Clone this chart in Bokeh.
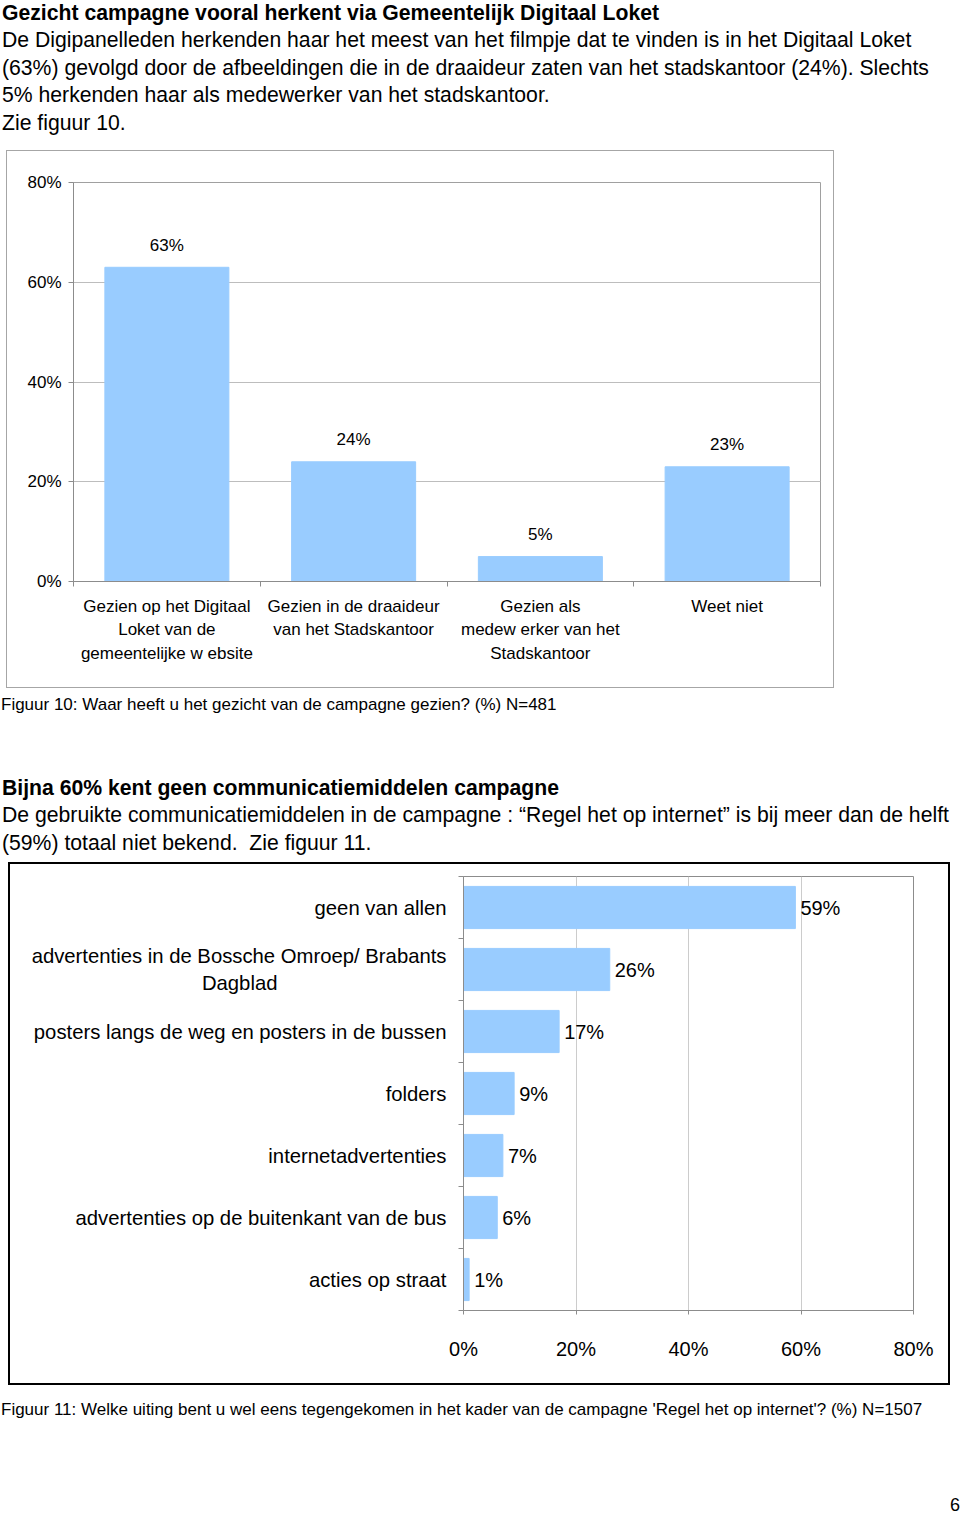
from bokeh.plotting import figure
from bokeh.models import (Range1d, FixedTicker, CustomJSTickFormatter, PrintfTickFormatter,
                          Div, ColumnDataSource)
from bokeh.layouts import column, row
from bokeh.embed import file_html
from bokeh.resources import INLINE
from bokeh.core.properties import value

FONT = "Liberation Sans"
BAR = "#99ccff"
AXIS = "#8c8c8c"
GRID1 = "#bdbdbd"
GRID2 = "#cccccc"

# ---------------- data ----------------
fig10_categories = [
    "Gezien op het Digitaal\nLoket van de\ngemeentelijke w ebsite",
    "Gezien in de draaideur\nvan het Stadskantoor",
    "Gezien als\nmedew erker van het\nStadskantoor",
    "Weet niet",
]
fig10_values = [63, 24, 5, 23]
fig10_ticks = [0, 20, 40, 60, 80]

fig11_categories = [
    "geen van allen",
    "advertenties in de Bossche Omroep/ Brabants\nDagblad" + "\u00a0" * 30,
    "posters langs de weg en posters in de bussen",
    "folders",
    "internetadvertenties",
    "advertenties op de buitenkant van de bus",
    "acties op straat",
]
fig11_values = [59, 26, 17, 9, 7, 6, 1]
fig11_ticks = [0, 20, 40, 60, 80]

# ---------------- texts ----------------
heading1 = "Gezicht campagne vooral herkent via Gemeentelijk Digitaal Loket"
para1 = [
    "De Digipanelleden herkenden haar het meest van het filmpje dat te vinden is in het Digitaal Loket",
    "(63%) gevolgd door de afbeeldingen die in de draaideur zaten van het stadskantoor (24%). Slechts",
    "5% herkenden haar als medewerker van het stadskantoor.",
    "Zie figuur 10.",
]
caption10 = "Figuur 10: Waar heeft u het gezicht van de campagne gezien? (%) N=481"
heading2 = "Bijna 60% kent geen communicatiemiddelen campagne"
para2 = [
    "De gebruikte communicatiemiddelen in de campagne : \u201cRegel het op internet\u201d is bij meer dan de helft",
    "(59%) totaal niet bekend.&nbsp; Zie figuur 11.",
]
caption11 = "Figuur 11: Welke uiting bent u wel eens tegengekomen in het kader van de campagne 'Regel het op internet'? (%) N=1507"
page_number = "6"

BASE = f"position:absolute;white-space:nowrap;font-family:'{FONT}';color:#000;"

# ---------------- text block A ----------------
divA = Div(width=960, height=150, margin=0, text=(
    f"<div style='position:relative;width:960px;height:150px;'>"
    f"<div style=\"{BASE}left:2px;top:-1.5px;font-size:21.2px;line-height:27.5px;\">"
    f"<b>{heading1}</b><br>" + "<br>".join(para1) + "</div></div>"))

# ---------------- figure 10 ----------------
n1 = len(fig10_values)
p1 = figure(width=828, height=538, x_range=Range1d(0, n1), y_range=Range1d(0, 80),
            output_backend="svg", toolbar_location=None,
            min_border_left=66, min_border_right=15, min_border_top=31, min_border_bottom=108,
            margin=(0, 0, 0, 6),
            styles={"border": "1px solid #a6a6a6", "box-sizing": "border-box"})
src1 = ColumnDataSource(dict(x=[i + 0.5 for i in range(n1)], top=fig10_values,
                             label=[f"{v}%" for v in fig10_values]))
p1.vbar(x="x", top="top", width=0.664, color=BAR, source=src1)
p1.text(x="x", y="top", text="label", source=src1, text_align="center", text_baseline="middle",
        y_offset=-22, text_font=value(FONT), text_font_size="17px", text_color="black")

p1.yaxis.ticker = FixedTicker(ticks=fig10_ticks)
p1.yaxis.formatter = PrintfTickFormatter(format="%d%%")
p1.xaxis.ticker = FixedTicker(ticks=[i + 0.5 for i in range(n1)], minor_ticks=list(range(n1 + 1)))
p1.xaxis.formatter = CustomJSTickFormatter(args=dict(labels=fig10_categories),
                                           code="return labels[Math.floor(tick)]")
for ax in (p1.xaxis[0], p1.yaxis[0]):
    ax.axis_line_color = AXIS
    ax.major_tick_line_color = AXIS
    ax.minor_tick_line_color = AXIS
    ax.major_label_text_font = FONT
    ax.major_label_text_font_size = "17px"
    ax.major_label_text_color = "black"
    ax.major_tick_in = 0
    ax.minor_tick_in = 0
p1.yaxis.major_tick_out = 5
p1.yaxis.minor_tick_out = 0
p1.yaxis.major_label_standoff = 7
p1.xaxis.major_tick_out = 0
p1.xaxis.minor_tick_out = 5
p1.xaxis.major_label_standoff = 10
p1.xaxis.major_label_text_line_height = 1.25
p1.xgrid.visible = False
p1.ygrid.ticker = FixedTicker(ticks=fig10_ticks)
p1.ygrid.grid_line_color = GRID1
p1.outline_line_color = "#a0a0a0"
p1.background_fill_color = "white"

# ---------------- text block B ----------------
divB = Div(width=960, height=174, margin=0, text=(
    f"<div style='position:relative;width:960px;height:174px;'>"
    f"<div style=\"{BASE}left:1px;top:7px;font-size:17px;line-height:20px;\">{caption10}</div>"
    f"<div style=\"{BASE}left:2px;top:85.5px;font-size:21.2px;line-height:27.5px;\">"
    f"<b>{heading2}</b><br>" + "<br>".join(para2) + "</div></div>"))

# ---------------- figure 11 ----------------
n2 = len(fig11_values)
p2 = figure(width=942, height=523, x_range=Range1d(0, 80), y_range=Range1d(0, n2),
            output_backend="svg", toolbar_location=None,
            min_border_left=453, min_border_right=39, min_border_top=12, min_border_bottom=77,
            margin=(0, 0, 0, 8),
            styles={"border": "2px solid black", "box-sizing": "border-box"})
ycent = [n2 - i - 0.5 for i in range(n2)]
src2 = ColumnDataSource(dict(y=ycent, right=fig11_values, label=[f"{v}%" for v in fig11_values]))
p2.hbar(y="y", right="right", left=0, height=0.68, color=BAR, source=src2)
p2.text(x="right", y="y", text="label", source=src2, text_align="left", text_baseline="middle",
        x_offset=5, text_font=value(FONT), text_font_size="20px", text_color="black")

p2.xaxis.ticker = FixedTicker(ticks=fig11_ticks)
p2.xaxis.formatter = PrintfTickFormatter(format="%d%%")
p2.yaxis.ticker = FixedTicker(ticks=ycent, minor_ticks=list(range(n2 + 1)))
p2.yaxis.formatter = CustomJSTickFormatter(args=dict(labels=fig11_categories, n=n2),
                                           code="return labels[n - 1 - Math.floor(tick)]")
for ax in (p2.xaxis[0], p2.yaxis[0]):
    ax.axis_line_color = AXIS
    ax.major_tick_line_color = AXIS
    ax.minor_tick_line_color = AXIS
    ax.major_label_text_font = FONT
    ax.major_label_text_color = "black"
    ax.major_tick_in = 0
    ax.minor_tick_in = 0
p2.xaxis.major_label_text_font_size = "20px"
p2.yaxis.major_label_text_font_size = "20.3px"
p2.xaxis.major_tick_out = 4
p2.xaxis.minor_tick_out = 0
p2.xaxis.major_label_standoff = 23
p2.yaxis.major_tick_out = 0
p2.yaxis.minor_tick_out = 5
p2.yaxis.major_label_standoff = 12
p2.yaxis.major_label_text_line_height = 1.2
p2.ygrid.visible = False
p2.xgrid.ticker = FixedTicker(ticks=fig11_ticks)
p2.xgrid.grid_line_color = GRID2
p2.outline_line_color = AXIS

# ---------------- text block C ----------------
divC = Div(width=960, height=131, margin=0, text=(
    f"<div style='position:relative;width:960px;height:131px;'>"
    f"<div style=\"{BASE}left:1px;top:15px;font-size:17px;line-height:20px;\">{caption11}</div>"
    f"<div style=\"{BASE}right:0px;top:110px;font-size:18px;line-height:20px;\">{page_number}</div>"
    "</div>"))

layout = column(divA, row(p1), divB, row(p2), divC, spacing=0)

open("out.html", "w").write(file_html(layout, INLINE))
